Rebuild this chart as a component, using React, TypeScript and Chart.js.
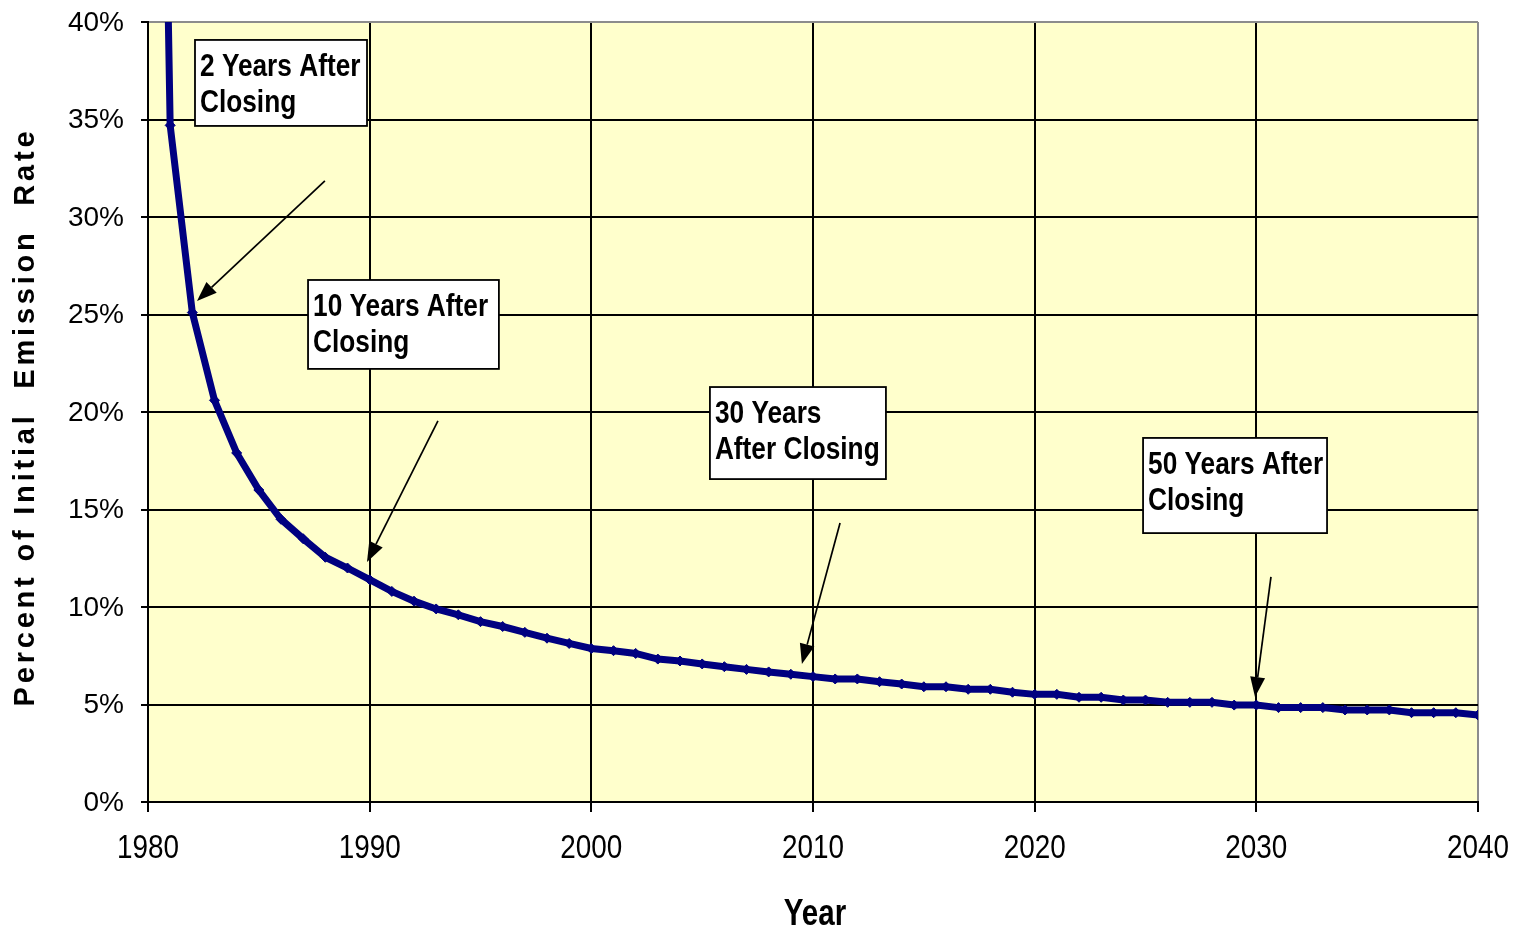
import React, { useEffect, useRef } from "react";
import { Chart, registerables } from "chart.js";

Chart.register(...registerables);

// ---------- data ----------
const years: number[] = [
  1980, 1981, 1982, 1983, 1984, 1985, 1986, 1987, 1988, 1989,
  1990, 1991, 1992, 1993, 1994, 1995, 1996, 1997, 1998, 1999,
  2000, 2001, 2002, 2003, 2004, 2005, 2006, 2007, 2008, 2009,
  2010, 2011, 2012, 2013, 2014, 2015, 2016, 2017, 2018, 2019,
  2020, 2021, 2022, 2023, 2024, 2025, 2026, 2027, 2028, 2029,
  2030, 2031, 2032, 2033, 2034, 2035, 2036, 2037, 2038, 2039,
  2040,
];

const percentOfInitial: number[] = [
  100, 34.7, 25.1, 20.6, 17.9, 16.0, 14.5, 13.5, 12.55, 12.0,
  11.4, 10.8, 10.3, 9.9, 9.6, 9.25, 9.0, 8.7, 8.4, 8.13,
  7.87, 7.76, 7.62, 7.33, 7.23, 7.08, 6.94, 6.8, 6.67, 6.55,
  6.43, 6.31, 6.31, 6.17, 6.05, 5.91, 5.91, 5.78, 5.78, 5.63,
  5.52, 5.52, 5.37, 5.37, 5.23, 5.23, 5.11, 5.11, 5.11, 4.97,
  4.97, 4.84, 4.84, 4.84, 4.72, 4.72, 4.72, 4.58, 4.58, 4.58,
  4.46,
];

const xTicks: number[] = [1980, 1990, 2000, 2010, 2020, 2030, 2040];
const xTickLabels: string[] = ["1980", "1990", "2000", "2010", "2020", "2030", "2040"];
const yTicks: number[] = [0, 5, 10, 15, 20, 25, 30, 35, 40];
const yTickLabels: string[] = ["0%", "5%", "10%", "15%", "20%", "25%", "30%", "35%", "40%"];

const annotationTexts: string[][] = [
  ["2 Years After", "Closing"],
  ["10 Years After", "Closing"],
  ["30 Years", "After Closing"],
  ["50 Years After", "Closing"],
];

const xTitle = "Year";
const yTitle = "Percent of Initial  Emission  Rate";

// ---------- layout (data-space anchors for annotation boxes & arrows) ----------
const annotationLayout = [
  { box: [1982.12, 39.08, 1989.88, 34.67], arrow: [1987.98, 31.85, 1982.21, 25.69] },
  { box: [1987.22, 26.77, 1995.83, 22.21], arrow: [1993.08, 19.54, 1989.88, 12.31] },
  { box: [2005.35, 21.28, 2013.29, 16.56], arrow: [2011.22, 14.31, 2009.5, 7.08] },
  { box: [2024.89, 18.67, 2033.19, 13.79], arrow: [2030.66, 11.54, 2029.94, 5.38] },
];

const SANS = "'Liberation Sans', Arial, sans-serif";
const NARROW_SCALE = 0.82;

function narrowText(
  ctx: CanvasRenderingContext2D,
  text: string,
  x: number,
  y: number,
  font: string,
  align: CanvasTextAlign,
  baseline: CanvasTextBaseline
) {
  ctx.save();
  ctx.font = font;
  ctx.textAlign = align;
  ctx.textBaseline = baseline;
  ctx.translate(x, y);
  ctx.scale(NARROW_SCALE, 1);
  ctx.fillText(text, 0, 0);
  ctx.restore();
}

function drawArrow(ctx: CanvasRenderingContext2D, x1: number, y1: number, x2: number, y2: number) {
  const ang = Math.atan2(y2 - y1, x2 - x1);
  const headLen = 20;
  const headW = 7.5;
  const bx = x2 - headLen * Math.cos(ang);
  const by = y2 - headLen * Math.sin(ang);
  ctx.save();
  ctx.strokeStyle = "#000";
  ctx.fillStyle = "#000";
  ctx.lineWidth = 1.7;
  ctx.beginPath();
  ctx.moveTo(x1, y1);
  ctx.lineTo(bx, by);
  ctx.stroke();
  ctx.beginPath();
  ctx.moveTo(x2, y2);
  ctx.lineTo(bx + headW * Math.sin(ang), by - headW * Math.cos(ang));
  ctx.lineTo(bx - headW * Math.sin(ang), by + headW * Math.cos(ang));
  ctx.closePath();
  ctx.fill();
  ctx.restore();
}

const decorPlugin = {
  id: "decor",
  beforeDraw(chart: any) {
    const { ctx, chartArea } = chart;
    ctx.save();
    ctx.fillStyle = "#ffffff";
    ctx.fillRect(0, 0, chart.width, chart.height);
    ctx.fillStyle = "#FFFFCC";
    ctx.fillRect(chartArea.left, chartArea.top, chartArea.right - chartArea.left, chartArea.bottom - chartArea.top);
    ctx.restore();
  },
  afterDraw(chart: any) {
    const { ctx, chartArea } = chart;
    const xs = chart.scales.x;
    const ys = chart.scales.y;
    ctx.save();
    ctx.fillStyle = "#000";
    // tick labels
    xTicks.forEach((v, i) => {
      narrowText(ctx, xTickLabels[i], xs.getPixelForValue(v), 849, `34px ${SANS}`, "center", "middle");
    });
    ctx.font = `28px ${SANS}`;
    ctx.textAlign = "right";
    ctx.textBaseline = "middle";
    yTicks.forEach((v, i) => {
      ctx.fillText(yTickLabels[i], chartArea.left - 24, ys.getPixelForValue(v) + 1);
    });
    ctx.restore();

    // annotations
    annotationLayout.forEach((a, i) => {
      const [ax1, ay1, ax2, ay2] = a.arrow;
      drawArrow(ctx, xs.getPixelForValue(ax1), ys.getPixelForValue(ay1), xs.getPixelForValue(ax2), ys.getPixelForValue(ay2));
      const [bx1, by1, bx2, by2] = a.box;
      const l = xs.getPixelForValue(bx1);
      const t = ys.getPixelForValue(by1);
      const r = xs.getPixelForValue(bx2);
      const b = ys.getPixelForValue(by2);
      ctx.save();
      ctx.fillStyle = "#ffffff";
      ctx.fillRect(l, t, r - l, b - t);
      ctx.strokeStyle = "#000";
      ctx.lineWidth = 1.8;
      ctx.strokeRect(l, t, r - l, b - t);
      ctx.fillStyle = "#000";
      annotationTexts[i].forEach((line, j) => {
        narrowText(ctx, line, l + 5, t + 36 + j * 36, `bold 32px ${SANS}`, "left", "alphabetic");
      });
      ctx.restore();
    });

    // axis titles
    ctx.save();
    ctx.fillStyle = "#000";
    narrowText(ctx, xTitle, (chartArea.left + chartArea.right) / 2 + 2, 915, `bold 36px ${SANS}`, "center", "middle");
    ctx.translate(26, 417);
    ctx.rotate(-Math.PI / 2);
    ctx.font = `bold 29px ${SANS}`;
    (ctx as any).letterSpacing = "3.8px";
    ctx.textAlign = "center";
    ctx.textBaseline = "middle";
    ctx.fillText(yTitle, 0, 0);
    ctx.restore();
  },
};

export default function App() {
  const ref = useRef<HTMLCanvasElement | null>(null);
  useEffect(() => {
    if (!ref.current) return;
    const chart = new Chart(ref.current, {
      type: "line",
      data: {
        datasets: [
          {
            data: years.map((y, i) => ({ x: y, y: percentOfInitial[i] })),
            borderColor: "#000080",
            backgroundColor: "#000080",
            borderWidth: 7,
            pointStyle: "rectRot",
            pointRadius: 5,
            pointBorderWidth: 1,
            pointBackgroundColor: "#000080",
            pointBorderColor: "#000080",
            tension: 0,
            fill: false,
          },
        ],
      },
      options: {
        animation: false,
        responsive: true,
        maintainAspectRatio: false,
        layout: { padding: { top: 22, right: 37, left: 0, bottom: 0 } },
        plugins: { legend: { display: false }, tooltip: { enabled: false }, title: { display: false } },
        scales: {
          x: {
            type: "linear",
            min: 1980,
            max: 2040,
            afterBuildTicks: (s: any) => {
              s.ticks = xTicks.map((v) => ({ value: v }));
            },
            afterFit: (s: any) => {
              s.height = 130;
            },
            ticks: { display: false },
            grid: {
              color: (c: any) => (c.tick && c.tick.value === 2040 ? "#8c8c8c" : "#000"),
              lineWidth: 2,
              tickLength: 10,
              tickColor: "#000",
            },
            border: { display: true, color: "#000", width: 2 },
          },
          y: {
            type: "linear",
            min: 0,
            max: 40,
            afterBuildTicks: (s: any) => {
              s.ticks = yTicks.map((v) => ({ value: v }));
            },
            afterFit: (s: any) => {
              s.width = 148;
            },
            ticks: { display: false },
            grid: {
              color: (c: any) => (c.tick && c.tick.value === 40 ? "#8c8c8c" : "#000"),
              lineWidth: 2,
              tickLength: 7,
              tickColor: "#000",
            },
            border: { display: true, color: "#000", width: 2 },
          },
        },
      },
      plugins: [decorPlugin],
    } as any);
    return () => chart.destroy();
  }, []);
  return (
    <div style={{ position: "fixed", left: 0, top: 0, width: 1515, height: 932, background: "#fff" }}>
      <canvas ref={ref} />
    </div>
  );
}
